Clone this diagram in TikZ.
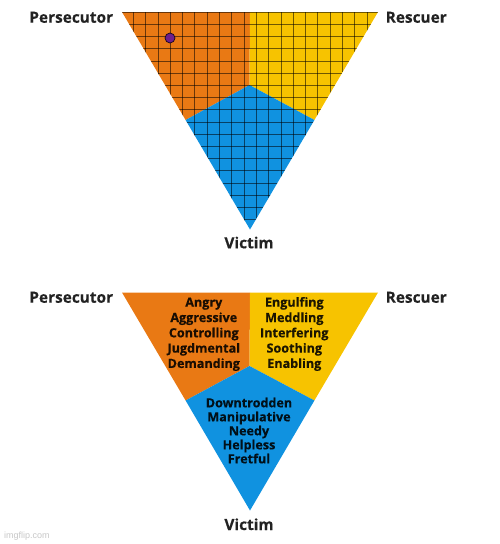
\documentclass[tikz,border=0pt]{standalone}
\usepackage{fontspec}
\setmainfont{Open Sans}[BoldFeatures={FakeBold=0.35}]
\newfontfamily\wmfont{Liberation Sans}
\definecolor{porange}{RGB}{233,121,20}
\definecolor{ryellow}{RGB}{247,195,0}
\definecolor{vblue}{RGB}{16,146,224}
\definecolor{labelgray}{RGB}{34,34,34}
\definecolor{dotpurple}{RGB}{110,30,140}
\tikzset{
  rolelabel/.style={font=\fontsize{15.4}{18}\selectfont\bfseries, text=labelgray, inner sep=0pt},
  traitword/.style={font=\fontsize{12.6}{15}\selectfont\bfseries, text=black, text opacity=0.88, inner sep=0pt, anchor=base},
  gridline/.style={draw=black, draw opacity=0.55, line width=0.8pt},
}
\begin{document}
\begin{tikzpicture}[x=1pt,y=-1pt]
\useasboundingbox (0,0) rectangle (500,544);
% ---------- top triangle ----------
\coordinate (tL) at (122,12);
\coordinate (tR) at (378,12);
\coordinate (tA) at (250,229.5);
\coordinate (tT) at (250,12);
\coordinate (tC) at (249.5,85);
\coordinate (tPL) at (185.6,120);
\coordinate (tPR) at (314.4,120);
\fill[porange] (tL) -- (tT) -- (tC) -- (tPL) -- cycle;
\fill[ryellow] (tT) -- (tR) -- (tPR) -- (tC) -- cycle;
\fill[vblue] (tPL) -- (tC) -- (tPR) -- (tA) -- cycle;
\begin{scope}
  \clip (tL) -- (tR) -- (tA) -- cycle;
  \foreach \k in {0,...,21} {
    \draw[gridline] ({121+12.3*\k},0) -- ({121+12.3*\k},240);
  }
  \foreach \k in {0,...,18} {
    \draw[gridline] (110,{12.2+12.2*\k}) -- (390,{12.2+12.2*\k});
  }
\end{scope}
\node[circle, fill=dotpurple, draw=black!80!dotpurple, line width=0.7pt, minimum size=10pt, inner sep=0pt] (dot) at (170,38) {};
\node[rolelabel, anchor=base east] (tPers) at (113.3,22.7) {Persecutor};
\node[rolelabel, anchor=base west] (tResc) at (385.5,22.7) {Rescuer};
\node[rolelabel, anchor=base] (tVict) at (249,248.3) {Victim};
% ---------- bottom triangle ----------
\coordinate (bL) at (122,292.5);
\coordinate (bR) at (378,292.5);
\coordinate (bA) at (250,510.5);
\coordinate (bT) at (250,292.5);
\coordinate (bC) at (249.5,366);
\coordinate (bPL) at (185.6,400.5);
\coordinate (bPR) at (314.4,400.5);
\fill[porange] (bL) -- (bT) -- (bC) -- (bPL) -- cycle;
\fill[ryellow] (bT) -- (bR) -- (bPR) -- (bC) -- cycle;
\fill[vblue] (bPL) -- (bC) -- (bPR) -- (bA) -- cycle;
\node[rolelabel, anchor=base east] (bPers) at (113.3,302.7) {Persecutor};
\node[rolelabel, anchor=base west] (bResc) at (385.5,302.7) {Rescuer};
\node[rolelabel, anchor=base] (bVict) at (249,530) {Victim};
% trait words
\foreach \w [count=\i from 0] in {Angry,Aggressive,Controlling,Jugdmental,Demanding}
  \node[traitword] (pw\i) at (203.8,{306.7+15.3*\i}) {\w};
\foreach \w [count=\i from 0] in {Engulfing,Meddling,Interfering,Soothing,Enabling}
  \node[traitword] (rw\i) at (294.3,{306.7+15.3*\i}) {\w};
\foreach \w [count=\i from 0] in {Downtrodden,Manipulative,Needy,Helpless,Fretful}
  \node[traitword] (vw\i) at (249,{407.3+14*\i}) {\w};
% watermark
\node[font=\wmfont\fontsize{9}{10}\selectfont, text=black!22, anchor=base west, inner sep=0pt] (wm) at (4,538) {imgflip.com};
\end{tikzpicture}
\end{document}
